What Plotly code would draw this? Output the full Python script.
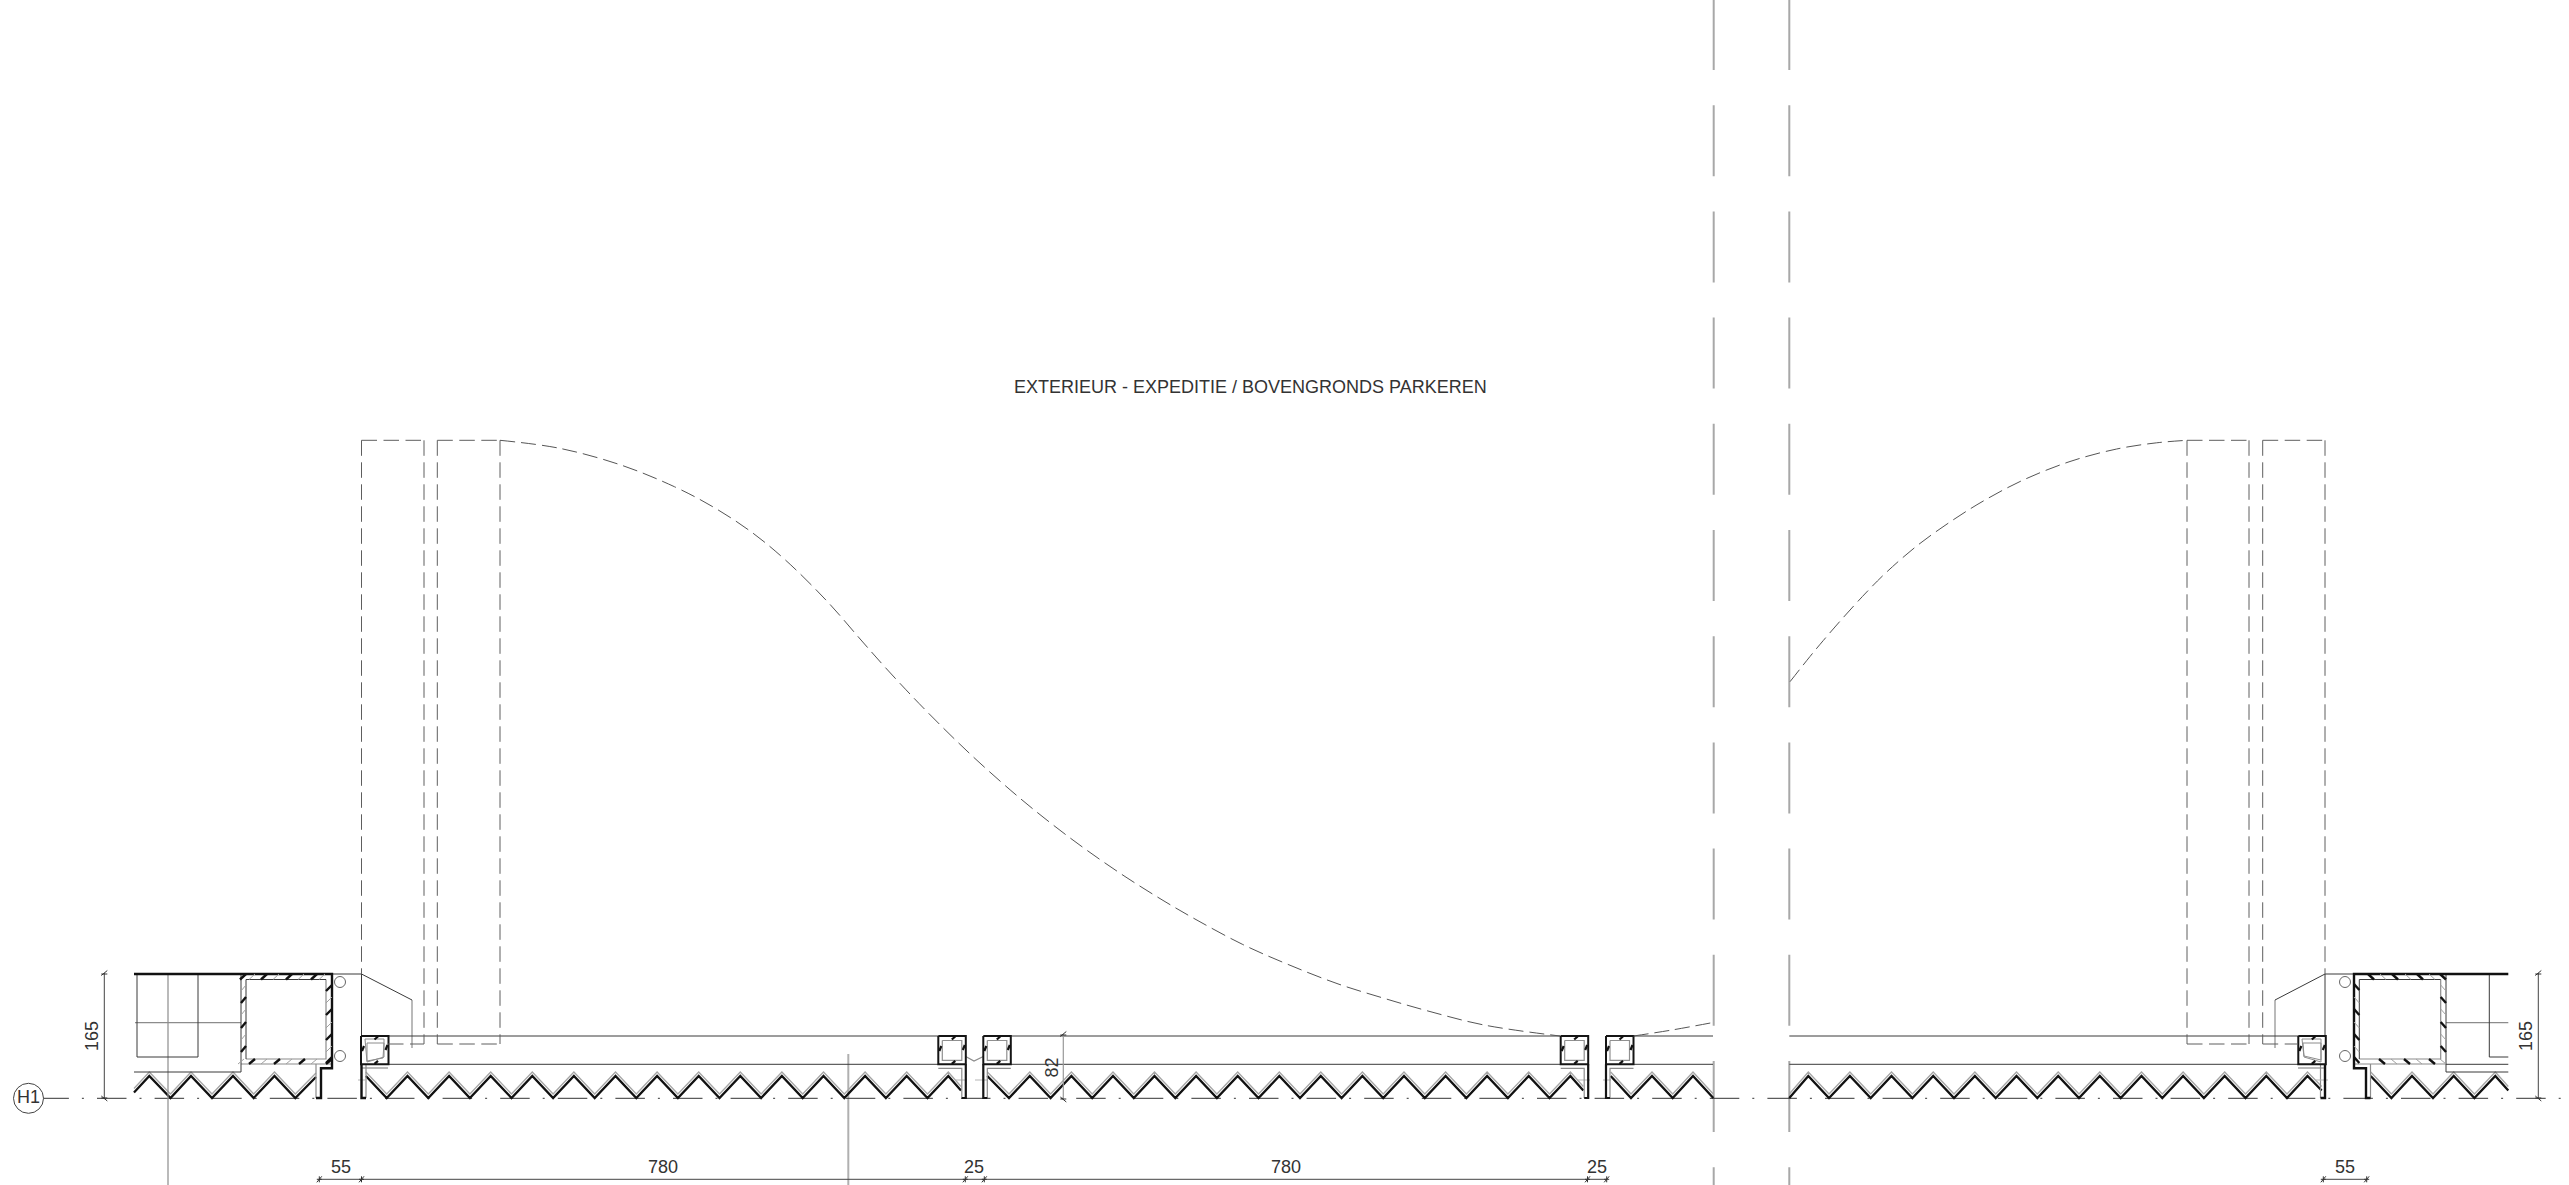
import plotly.graph_objects as go

W, H = 2569, 1185
FONT = "Liberation Sans"

# ---- drawing data, in drawing units ----
TITLE = "EXTERIEUR - EXPEDITIE / BOVENGRONDS PARKEREN"
TITLE_POS = (1250.5, 386.5)

H_DIM_LABELS = ["55", "780", "25", "780", "25", "55"]
H_DIM_LABEL_X = [341, 663, 974, 1285.7, 1596.7, 2345]
H_DIM_LABEL_Y = 1166.5
H_DIM_TICKS = [319.3, 361.5, 965.3, 984.3, 1587.5, 1606.7]
H_DIM_TICKS_R = [2323.3, 2366.7]
H_DIM_Y = 1179.3
V_DIM_LABELS = ["165", "165", "82"]
V_DIM_LABEL_X = [92, 2526, 1051.7]
V_DIM_LABEL_Y = [1036, 1036, 1067.7]
V_DIM_LINES = [(104.3, 973, 1099), (2538.3, 973, 1099), (1063.3, 1034, 1100)]

SWING_LEFT_X = [500, 559.6, 620.9, 674.4, 712.7, 751, 785.4, 827.5, 861, 883.7, 906, 925.8, 951, 979,
                1018.4, 1052, 1085.7, 1125, 1164, 1198, 1242.8, 1287.7, 1338, 1383, 1428, 1484, 1560]
SWING_LEFT_Y = [440.3, 448.3, 465, 486.7, 506.7, 531.7, 560, 601.7, 640, 665.7, 689.8, 710.4, 735.6, 762.2,
                796.9, 824.1, 849.4, 876.5, 901, 920.7, 944.5, 964.3, 983.9, 998, 1011, 1025, 1036]
SWING_LEFT_TAIL_X = [1633.5, 1672, 1713]
SWING_LEFT_TAIL_Y = [1036, 1030, 1022.5]
SWING_RIGHT_X = [1790, 1810, 1823.3, 1843.3, 1866.7, 1886.7, 1916.7, 1950, 1983.3, 2023.3, 2070, 2116.7, 2156.7, 2187]
SWING_RIGHT_Y = [681.7, 656.5, 640.5, 617.5, 592, 572, 546, 522, 501, 480, 461.5, 449, 442.8, 440.3]

DASHED_LEGS = [
    ((361.5, 440.3), (361.5, 974)), ((424, 440.3), (424, 1044)), ((437.3, 440.3), (437.3, 1044)), ((500, 440.3), (500, 1044)),
    ((361.5, 440.3), (424, 440.3)), ((437.3, 440.3), (500, 440.3)), ((388, 1044), (424, 1044)), ((437.3, 1044), (500, 1044)),
    ((2187, 440.3), (2187, 1044)), ((2249, 440.3), (2249, 1044)), ((2262.7, 440.3), (2262.7, 1044)), ((2325, 440.3), (2325, 974)),
    ((2187, 440.3), (2249, 440.3)), ((2262.7, 440.3), (2325, 440.3)), ((2187, 1044), (2249, 1044)), ((2262.7, 1044), (2298, 1044)),
]

ZIGZAGS = [
    ([134, 149.3, 170.5, 191, 212, 233, 253.7, 274.5, 295.3, 316],
     [1092.5, 1076, 1098, 1076, 1098, 1076, 1098, 1076, 1098, 1077]),
    ([365.9, 386.7, 407.5, 428.3, 449.1, 469.9, 490.7, 511.5, 532.3, 553.1, 573.9, 594.7, 615.5, 636.3, 657.1, 677.9,
      698.7, 719.5, 740.3, 761.1, 781.9, 802.7, 823.5, 844.3, 865.1, 885.9, 906.7, 927.5, 948.3, 961],
     [1076, 1098, 1076, 1098, 1076, 1098, 1076, 1098, 1076, 1098, 1076, 1098, 1076, 1098, 1076, 1098,
      1076, 1098, 1076, 1098, 1076, 1098, 1076, 1098, 1076, 1098, 1076, 1098, 1076, 1090.5]),
    ([987.3, 1009, 1029.8, 1050.6, 1071.4, 1092.2, 1113, 1133.8, 1154.5, 1175.3, 1196.1, 1216.9, 1237.7, 1258.5, 1279.3,
      1300, 1320.8, 1341.6, 1362.4, 1383.2, 1404, 1424.8, 1445.6, 1466.4, 1487.1, 1507.9, 1528.7, 1549.5, 1570.4, 1583.3],
     [1076, 1098, 1076, 1098, 1076, 1098, 1076, 1098, 1076, 1098, 1076, 1098, 1076, 1098, 1076,
      1098, 1076, 1098, 1076, 1098, 1076, 1098, 1076, 1098, 1076, 1098, 1076, 1098, 1076, 1090.5]),
    ([1610.7, 1631, 1652, 1672.7, 1693, 1713.3],
     [1076, 1098, 1076, 1098, 1076, 1098]),
    ([1789.3, 1808.3, 1829, 1849.9, 1870.7, 1891.5, 1912.4, 1933.2, 1954, 1974.9, 1995.7, 2016.5, 2037.3, 2058.2, 2079,
      2099.8, 2120.7, 2141.5, 2162.3, 2183.1, 2203.9, 2224.7, 2245.5, 2266.3, 2287, 2307.5, 2321.7],
     [1098, 1076, 1098, 1076, 1098, 1076, 1098, 1076, 1098, 1076, 1098, 1076, 1098, 1076, 1098,
      1076, 1098, 1076, 1098, 1076, 1098, 1076, 1098, 1076, 1098, 1076, 1090.5]),
    ([2370.7, 2391.4, 2412, 2433, 2453.7, 2474.4, 2495.3, 2508.3],
     [1076, 1098, 1076, 1098, 1076, 1098, 1076, 1090.5]),
]

THICK = [
    [(134, 974), (332, 974), (332, 1068.3), (321, 1068.3), (321, 1098), (316, 1098)],
    [(2508.3, 974), (2354, 974), (2354, 1068.3), (2366, 1068.3), (2366, 1098), (2370.5, 1098)],
    [(361.5, 1064), (361.5, 1098), (366, 1098)],
    [(2325, 1064), (2325, 1098), (2320.5, 1098)],
]
THIN_DARK = [
    [(137, 974), (137, 1057), (198, 1057), (198, 974)],
    [(134, 1072), (241, 1072), (241, 974)],
    [(246, 1059), (246, 979.5), (326, 979.5)],
    [(332, 974), (361.5, 974), (361.5, 1036)],
    [(361.5, 974), (412, 1000)],
    [(388, 1036), (938.3, 1036)], [(388, 1064.3), (938.3, 1064.3)],
    [(1011, 1036), (1560.7, 1036)], [(1011, 1064.3), (1560.7, 1064.3)],
    [(1633.5, 1036), (1713, 1036)], [(1633.5, 1064.3), (1713, 1064.3)],
    [(1789.3, 1036), (2298.3, 1036)], [(1789.3, 1064.3), (2298.3, 1064.3)],
    [(2446, 1064.3), (2508.3, 1064.3)],
    [(2446, 974), (2446, 1072), (2508.3, 1072)],
    [(2508.3, 1057), (2489.3, 1057), (2489.3, 974)],
    [(2359.3, 1059), (2359.3, 979.5), (2440.7, 979.5)],
    [(2354, 974), (2325, 974), (2325, 1036)],
    [(2325, 974), (2275, 1000)],
]
THIN_GREY = [
    [(168, 974), (168, 1185)],
    [(135, 1022.7), (241, 1022.7)],
    [(246, 1059), (326, 1059), (326, 979.5)],
    [(241, 1064), (332, 1064)],
    [(316, 1064), (316, 1098)],
    [(412, 1000), (412, 1048)],
    [(2275, 1000), (2275, 1048)],
    [(2446, 1022.7), (2508.3, 1022.7)],
    [(2359.3, 1059), (2440.7, 1059), (2440.7, 979.5)],
    [(2354, 1064), (2446, 1064)],
    [(2370.5, 1064), (2370.5, 1098)],
    [(366, 1064), (366, 1098)],
    [(2320.5, 1064), (2320.5, 1098)],
    [(361, 1068), (388, 1068)],
    [(2298, 1068), (2325, 1068)],
    [(965.7, 1056.5), (974, 1061), (983.3, 1056.5)],
]
FAINT_DASH = [
    [(358, 1080), (366, 1080)], [(955, 1080), (967, 1080)], [(975, 1080), (988, 1080)],
    [(1578, 1080), (1590, 1080)], [(1603, 1080), (1611, 1080)], [(2315, 1080), (2328, 1080)],
]
# small tubes that end the leaves
TUBE_LEFT = [361, 2298.3]
TUBE_MID_A = [938.3, 1560.7]   # flange on the right
TUBE_MID_B = [983.3, 1606]     # flange on the left
TUBE_TOP, TUBE_BOT = 1036, 1064.3
TUBE_W = 27.5
TUBE_IRREG = [
    [(365, 1039), (384, 1039), (384, 1057), (367, 1062), (365, 1039)],
    [(367, 1043), (384, 1043), (383, 1058), (367, 1061), (367, 1043)],
    [(2302, 1039), (2321, 1039), (2321, 1062), (2304, 1057), (2302, 1039)],
    [(2303, 1043), (2321, 1043), (2321, 1060), (2304, 1056), (2303, 1043)],
]

# main frame wall hatching: centre of every mark along each wall
L_TOP_BLACK = [243, 264, 289, 314]
L_TOP_GREY = [252, 276, 301, 322]
L_BOT_BLACK = [252, 277, 302, 329]
L_BOT_GREY = [241, 264, 289, 314]
L_LEFT_BLACK = [1000, 1025, 1049]
L_LEFT_GREY = [988, 1012, 1037]
L_RIGHT_BLACK = [988, 1012, 1037, 1060]
L_RIGHT_GREY = [1000, 1025, 1049]
R_TOP_BLACK = [2371, 2395, 2420, 2443]
R_TOP_GREY = [2383, 2408, 2432]
R_BOT_BLACK = [2382, 2407, 2432]
R_BOT_GREY = [2394, 2419, 2443]
R_LEFT_BLACK = [987, 1012, 1037, 1060]
R_LEFT_GREY = [1000, 1025, 1049]
R_RIGHT_BLACK = [1000, 1025, 1049]
R_RIGHT_GREY = [988, 1012, 1037]

LONG_LINES_X = [1713.7, 1789.3]
LONG_DASH_Y = (-1, 1185)
SECTION_LINE = (848.3, 1054, 1185)
CIRCLES_X = [340, 340, 2345, 2345]
CIRCLES_Y = [982, 1056, 982, 1056]
GRID_LABEL = "H1"
GRID_POS = (28.5, 1098.3)
DATUM = ((39.4, 1098.3), (2561.5, 1098.3))

fig = go.Figure()


def polys(paths, color, width, dash=None, shape="linear"):
    xs, ys = [], []
    for p in paths:
        xs += [q[0] for q in p] + [None]
        ys += [q[1] for q in p] + [None]
    fig.add_trace(go.Scatter(x=xs, y=ys, mode="lines", hoverinfo="skip", showlegend=False,
                             line=dict(color=color, width=width, dash=dash, shape=shape, simplify=False)))


def marks_h(centres, y0, y1, lean):
    return [[(c - lean, y0), (c + lean, y1)] for c in centres]


def marks_v(centres, x0, x1, lean):
    return [[(x0, c + lean), (x1, c - lean)] for c in centres]


# long broken centre lines and section line
polys([[(x, LONG_DASH_Y[0]), (x, LONG_DASH_Y[1])] for x in LONG_LINES_X], "#a8a8a8", 2, dash="71px,35.2px")
polys([[(SECTION_LINE[0], SECTION_LINE[1]), (SECTION_LINE[0], SECTION_LINE[2])]], "#b0b0b0", 2)

# datum line
polys([list(DATUM)], "#333333", 1, dash="29.5px,13px,2px,13.1px")

# leaf zigzags: grey outer skin, then black
for xs, ys in ZIGZAGS:
    polys([[(x, y - 4) for x, y in zip(xs, ys)]], "#a6a6a6", 1.3)
    polys([list(zip(xs, ys))], "#111111", 2.3)

polys(THIN_GREY, "#8c8c8c", 1.2)
polys(THIN_DARK, "#3a3a3a", 1)
polys(FAINT_DASH, "#b5b5b5", 1)
polys(THICK, "#111111", 2.4)

# wall hatching of both frames
grey = (marks_h(L_TOP_GREY, 979.5, 974, 3) + marks_h(L_BOT_GREY, 1064, 1059, 3)
        + marks_v(L_LEFT_GREY, 241, 246, 3) + marks_v(L_RIGHT_GREY, 326, 332, 3)
        + marks_h(R_TOP_GREY, 979.5, 974, -3) + marks_h(R_BOT_GREY, 1064, 1059, -3)
        + marks_v(R_LEFT_GREY, 2354, 2359.3, -3) + marks_v(R_RIGHT_GREY, 2440.7, 2446, -3))
black = (marks_h(L_TOP_BLACK, 979.5, 974, 3) + marks_h(L_BOT_BLACK, 1064, 1059, 3)
         + marks_v(L_LEFT_BLACK, 241, 246, 3) + marks_v(L_RIGHT_BLACK, 326, 332, 3)
         + marks_h(R_TOP_BLACK, 979.5, 974, -3) + marks_h(R_BOT_BLACK, 1064, 1059, -3)
         + marks_v(R_LEFT_BLACK, 2354, 2359.3, -3) + marks_v(R_RIGHT_BLACK, 2440.7, 2446, -3))
polys(grey, "#a0a0a0", 1)
polys(black, "#111111", 2.4)

# tubes
t, b, w = TUBE_TOP, TUBE_BOT, TUBE_W
outer, inner, tube_marks, flange_thick, flange_grey = [], [], [], [], []
for x0 in TUBE_LEFT + TUBE_MID_A + TUBE_MID_B:
    outer.append([(x0, t), (x0 + w, t), (x0 + w, b), (x0, b), (x0, t)])
for x0 in TUBE_MID_A + TUBE_MID_B:
    inner.append([(x0 + 4, t + 4.5), (x0 + 23.5, t + 4.5), (x0 + 23.5, b - 4), (x0 + 4, b - 4), (x0 + 4, t + 4.5)])
for x0 in TUBE_LEFT + TUBE_MID_A + TUBE_MID_B:
    tube_marks += [[(x0 + 13.5, t + 3.5), (x0 + 17, t + 0.5)], [(x0 + 13.5, b - 0.5), (x0 + 17, b - 3.5)],
                   [(x0 + 1, 1051), (x0 + 3, 1046)], [(x0 + 24.5, 1050), (x0 + 26.5, 1045)]]
for x0 in TUBE_MID_A:
    flange_thick.append([(x0 + w, b), (x0 + w, 1098), (x0 + 23.5, 1098)])
    flange_grey.append([(x0, b + 4), (x0 + 23.5, b + 4), (x0 + 23.5, 1098)])
for x0 in TUBE_MID_B:
    flange_thick.append([(x0, b), (x0, 1098), (x0 + 4, 1098)])
    flange_grey.append([(x0 + w, b + 4), (x0 + 4, b + 4), (x0 + 4, 1098)])
polys(flange_grey, "#8c8c8c", 1.2)
polys(inner, "#909090", 1.2)
polys(TUBE_IRREG, "#8c8c8c", 1)
polys(outer, "#151515", 2)
polys(flange_thick, "#151515", 2.2)
polys(tube_marks, "#111111", 2.2)

# dashed door leaves and swings
polys([list(p) for p in DASHED_LEGS], "#5e5e5e", 1, dash="15.5px,6.5px")
polys([list(zip(SWING_LEFT_X, SWING_LEFT_Y))], "#555555", 1, dash="15px,6px", shape="spline")
polys([list(zip(SWING_LEFT_TAIL_X, SWING_LEFT_TAIL_Y))], "#555555", 1, dash="15px,6px", shape="spline")
polys([list(zip(SWING_RIGHT_X, SWING_RIGHT_Y))], "#555555", 1, dash="15px,6px", shape="spline")

# dimensions
polys([[(H_DIM_TICKS[0], H_DIM_Y), (H_DIM_TICKS[-1], H_DIM_Y)], [(H_DIM_TICKS_R[0], H_DIM_Y), (H_DIM_TICKS_R[1], H_DIM_Y)]], "#444444", 1)
polys([[(x, y0), (x, y1)] for x, y0, y1 in V_DIM_LINES[:2]], "#444444", 1)
polys([[(x, y0), (x, y1)] for x, y0, y1 in V_DIM_LINES[2:]], "#999999", 1.2)
ticks = []
for x in H_DIM_TICKS + H_DIM_TICKS_R:
    ticks += [[(x - 2.5, H_DIM_Y + 3), (x + 2.5, H_DIM_Y - 3)], [(x - 2.5, H_DIM_Y), (x + 2.5, H_DIM_Y)], [(x, H_DIM_Y - 3), (x, H_DIM_Y + 3)]]
for x, y0, y1 in V_DIM_LINES:
    ticks += [[(x - 3, y0 + 2.5), (x + 3, y0 - 2.5)], [(x - 3, y1 - 3), (x + 3, y1 + 2)], [(x - 3, y0 + 1), (x + 3, y0 + 1)], [(x - 3, y1 - 1), (x + 3, y1 - 1)]]
polys(ticks, "#333333", 1)

# bolts and grid bubble
fig.add_trace(go.Scatter(x=CIRCLES_X, y=CIRCLES_Y, mode="markers", hoverinfo="skip", showlegend=False,
                         marker=dict(size=11, color="white", line=dict(color="#666666", width=1))))
fig.add_trace(go.Scatter(x=[GRID_POS[0]], y=[GRID_POS[1]], mode="markers+text", hoverinfo="skip", showlegend=False,
                         marker=dict(size=30, color="white", line=dict(color="#444444", width=1)),
                         text=[GRID_LABEL], textposition="middle center",
                         textfont=dict(family=FONT, size=18, color="#333333")))

anns = [dict(x=TITLE_POS[0], y=TITLE_POS[1], text=TITLE, font=dict(size=18))]
for s, x in zip(H_DIM_LABELS, H_DIM_LABEL_X):
    anns.append(dict(x=x, y=H_DIM_LABEL_Y, text=s, font=dict(size=18)))
for s, x, y in zip(V_DIM_LABELS, V_DIM_LABEL_X, V_DIM_LABEL_Y):
    anns.append(dict(x=x, y=y, text=s, textangle=-90, font=dict(size=18)))
for a in anns:
    a.update(xref="x", yref="y", showarrow=False, xanchor="center", yanchor="middle")
    a["font"].update(family=FONT, color="#333333")

fig.update_layout(
    width=W, height=H, margin=dict(l=0, r=0, t=0, b=0), paper_bgcolor="white", plot_bgcolor="white",
    xaxis=dict(range=[0, W], visible=False, fixedrange=True),
    yaxis=dict(range=[H, 0], visible=False, fixedrange=True),
    annotations=anns, showlegend=False,
)
fig.write_html("out.html", config={"displayModeBar": False, "responsive": False},
               post_script="document.body.style.margin='0';document.documentElement.style.overflow='hidden';")
